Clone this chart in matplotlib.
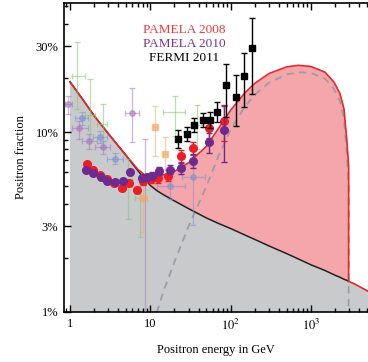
import numpy as np
import matplotlib
matplotlib.use('Agg')
import matplotlib.pyplot as plt
from matplotlib.ticker import NullFormatter, LogLocator

plt.rcParams['font.family'] = 'Liberation Serif'
plt.rcParams['mathtext.fontset'] = 'stix'

# model curves (positron fraction in %)
E_grid = [1, 1.5, 2, 3, 5, 7, 10, 12.1, 15, 20, 30, 50, 70, 100, 150, 200, 300, 500,
          700, 1000, 1500, 1940, 2300, 2583, 2800, 2950, 2950, 3500, 5200]
bkg = [19.0, 14.8, 12.3, 9.8, 7.4, 6.1, 5.05, 4.72, 4.45, 4.14, 3.75, 3.33, 3.11, 2.91,
       2.68, 2.53, 2.33, 2.11, 1.97, 1.83, 1.70, 1.61, 1.56, 1.52, 1.50, 1.48, 1.48, 1.43, 1.30]
sig = [0.001, 0.001, 0.001, 0.001, 0.005, 0.1, 0.4, 1.0, 1.35, 1.9, 3.0, 5.0, 7.3, 10.3,
       13.8, 16.1, 18.8, 20.9, 21.5, 21.3, 19.8, 17.3, 14.8, 11.9, 7.5, 5.0, 0.001, 0.001, 0.001]

# PAMELA 2008
p08_E = [1.61, 1.93, 2.36, 2.89, 3.53, 4.40, 5.43, 6.77, 8.18, 10.2, 12.6, 16.7, 23.8, 33.7, 54.3, 82.8]
p08_f = [6.68, 6.15, 5.77, 5.48, 5.21, 4.89, 5.21, 4.76, 5.34, 5.48, 5.55, 5.72, 7.38, 8.11, 10.5, 11.5]
p08_err = [0.15, 0.15, 0.15, 0.15, 0.15, 0.15, 0.2, 0.2, 0.25, 0.3, 0.35, 0.4, 0.55, 0.7, 1.2, 2.6]

# PAMELA 2010
p10_E = [1.60, 1.95, 2.42, 2.93, 3.63, 4.61, 5.59, 7.81, 8.97, 10.4, 12.8, 17.6, 24.1, 33.7, 54.3, 82.8]
p10_f = [6.15, 5.90, 5.60, 5.36, 5.28, 5.36, 5.97, 5.53, 5.62, 5.72, 6.10, 6.19, 6.31, 6.93, 8.77, 10.2]
p10_lo = [6.03, 5.78, 5.48, 5.24, 5.16, 5.24, 5.82, 5.33, 5.42, 5.47, 5.8, 5.84, 5.86, 6.33, 7.67, 6.8]
p10_hi = [6.27, 6.02, 5.72, 5.48, 5.40, 5.48, 6.12, 5.73, 5.82, 5.97, 6.4, 6.54, 6.76, 7.53, 9.87, 13.9]

# FERMI 2011
fermi_E = [22.3, 28.6, 35.0, 44.7, 55.4, 68.3, 86.9, 116, 147, 186]
fermi_f = [9.14, 9.81, 11.0, 11.7, 11.7, 12.9, 18.2, 15.6, 20.5, 29.2]
fermi_lo = [8.15, 8.97, 10.05, 10.7, 10.57, 11.35, 12.1, 10.8, 13.8, 16.3]
fermi_hi = [10.26, 10.73, 12.03, 12.8, 12.95, 14.67, 23.9, 20.7, 27.5, 43.0]

# older experiments (faded)
green_E = [1.24, 1.77, 2.55, 5.28, 7.44, 20.3, 38.0]
green_xlo = [1.05, 1.54, 2.17, 4.6, 6.5, 14.4, 32]
green_xhi = [1.54, 2.05, 2.89, 6.0, 8.6, 27.1, 45]
green_f = [20.6, 12.5, 11.1, 5.4, 4.3, 13.0, 11.0]
green_lo = [13.4, 9.1, 8.2, 3.29, 2.61, 9.5, 8.0]
green_hi = [31.6, 19.7, 14.3, 7.1, 5.5, 15.8, 14.1]

lav_E = [0.95, 1.31, 1.74, 2.55, 5.87, 8.59]
lav_xlo = [0.86, 1.06, 1.41, 2.05, 4.84, 8.0]
lav_xhi = [1.06, 1.68, 2.17, 3.15, 7.23, 9.2]
lav_f = [14.3, 10.5, 8.95, 8.22, 12.7, 5.6]
lav_lo = [12.6, 9.14, 8.05, 7.55, 8.8, 0.5]
lav_hi = [15.8, 11.5, 9.75, 8.9, 17.6, 9.1]

blue_E = [1.40, 2.36, 3.63, 17.6, 33.7]
blue_xlo = [1.15, 1.93, 2.89, 12.1, 24.8]
blue_xhi = [1.68, 2.89, 4.57, 27.1, 48.0]
blue_f = [11.9, 9.38, 7.08, 5.03, 5.6]
blue_lo = [11.0, 8.7, 6.6, 4.24, 3.04]
blue_hi = [12.9, 10.1, 7.6, 5.84, 6.64]

orange_E = [11.4, 15.2, 8.0]
orange_xlo = [10.8, 14.4, 7.5]
orange_xhi = [12.0, 16.0, 9.0]
orange_f = [10.6, 7.55, 4.3]
orange_lo = [7.36, 6.2, 2.78]
orange_hi = [13.9, 9.4, 5.5]

E = np.array(E_grid)
B = np.array(bkg)
S = np.array(sig)
T = B + S

fig = plt.figure(figsize=(3.68, 3.62), dpi=100)
ax = fig.add_axes([64/368, 1-312/362, 1-64/368, 309/362])
ax.set_xscale('log')
ax.set_yscale('log')

ax.fill_between(E, 0.01, B, color='#c9cacc', lw=0, zorder=1)
ax.fill_between(E, B, T, color='#f4a6ab', lw=0, zorder=1)
ax.plot(E, S, color='#9a9ea4', lw=1.3, ls=(0, (4, 3)), zorder=2)
ax.plot(E[:-3], B[:-3], color='#222222', lw=1.1, zorder=3)
ax.plot(E, T, color='#e8262d', lw=1.2, zorder=4)


def faded(xs, xlo, xhi, ys, ylo, yhi, col, mk):
    xs = np.array(xs); ys = np.array(ys)
    ax.errorbar(xs, ys, xerr=[xs-np.array(xlo), np.array(xhi)-xs],
                yerr=[ys-np.array(ylo), np.array(yhi)-ys], fmt=mk, color=col, ms=4,
                elinewidth=0.9, capsize=2, capthick=0.9, alpha=0.55, zorder=5)


faded(green_E, green_xlo, green_xhi, green_f, green_lo, green_hi, '#86c46f', 'none')
faded(lav_E, lav_xlo, lav_xhi, lav_f, lav_lo, lav_hi, '#a777c4', 'o')
faded(blue_E, blue_xlo, blue_xhi, blue_f, blue_lo, blue_hi, '#7f93d1', 'o')
faded(orange_E, orange_xlo, orange_xhi, orange_f, orange_lo, orange_hi, '#f6a866', 's')

ax.errorbar(p08_E, p08_f, yerr=p08_err, fmt='o', color='#ee1c25', ms=5.5,
            elinewidth=1, capsize=2, zorder=6)
y10 = np.array(p10_f)
ax.errorbar(p10_E, y10, yerr=[y10-np.array(p10_lo), np.array(p10_hi)-y10], fmt='o',
            color='#6e2a8e', ms=5.5, elinewidth=1, capsize=2, zorder=7)
yf = np.array(fermi_f)
ax.errorbar(fermi_E, yf, yerr=[yf-np.array(fermi_lo), np.array(fermi_hi)-yf], fmt='s',
            color='black', ms=5, elinewidth=1, capsize=2.5, zorder=8)

ax.set_xlim(0.842, 5140)
ax.set_ylim(1, 52.1)

ax.set_xticks([1, 10, 100, 1000])
ax.set_xticklabels(['1', '10', '$10^2$', '$10^3$'], fontsize=9)
ax.xaxis.set_minor_locator(LogLocator(base=10, subs=np.arange(2, 10)))
ax.xaxis.set_minor_formatter(NullFormatter())
ax.set_yticks([1, 3, 10, 30])
ax.set_yticklabels(['1%', '3%', '10%', '30%'], fontsize=9)
ax.yaxis.set_minor_locator(LogLocator(base=10, subs=np.arange(2, 10)))
ax.yaxis.set_minor_formatter(NullFormatter())
ax.tick_params(which='both', direction='in', top=True, right=False, width=1, pad=4)
ax.tick_params(which='major', length=5)
ax.tick_params(which='minor', length=3)
ax.spines['right'].set_visible(False)
for s in ['left', 'bottom', 'top']:
    ax.spines[s].set_linewidth(1.2)

ax.set_xlabel('Positron energy in GeV', fontsize=9, labelpad=8)
ax.set_ylabel('Positron fraction', fontsize=9, labelpad=6)

ax.text(0.395, 0.913, 'PAMELA 2008', color='#f0383c', fontsize=9.5, ha='center', va='center', transform=ax.transAxes)
ax.text(0.395, 0.867, 'PAMELA 2010', color='#7b3294', fontsize=9.5, ha='center', va='center', transform=ax.transAxes)
ax.text(0.395, 0.822, 'FERMI 2011', color='black', fontsize=9.5, ha='center', va='center', transform=ax.transAxes)

fig.savefig('out.png', dpi=100)
